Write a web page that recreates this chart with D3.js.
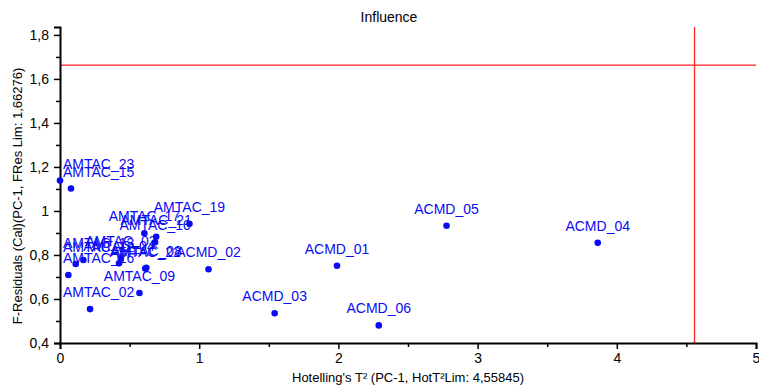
<!DOCTYPE html>
<html>
<head>
<meta charset="utf-8">
<script src="https://cdn.jsdelivr.net/npm/d3@7"></script>
<style>
  html, body { margin: 0; padding: 0; background: #fff; }
  svg { display: block; font-family: "Liberation Sans", Arial, sans-serif; }
</style>
</head>
<body>
<svg id="chart" width="759" height="385"></svg>
<script>
// Sample names and their influence coordinates
const sampleNames = [
  "AMTAC_23", "AMTAC_15", "AMTAC_19", "AMTAC_17", "AMTAC_21", "AMTAC_10",
  "AMTAC_16", "AMTAC_12", "AMTAC_13", "AMTAC_03", "AMTAC_04", "AMTAC_22",
  "AMTAC_08", "AMTAC_09", "AMTAC_02",
  "ACMD_02", "ACMD_01", "ACMD_05", "ACMD_04", "ACMD_03", "ACMD_06"
];
const hotellingT2 = [
  0.000, 0.079, 0.930, 0.606, 0.691, 0.683,
  0.060, 0.113, 0.168, 0.437, 0.424, 0.612,
  0.620, 0.571, 0.216,
  1.067, 1.990, 2.777, 3.863, 1.542, 2.290
];
const fResiduals = [
  1.138, 1.102, 0.942, 0.899, 0.883, 0.858,
  0.709, 0.759, 0.777, 0.785, 0.762, 0.738,
  0.742, 0.627, 0.554,
  0.735, 0.751, 0.933, 0.855, 0.535, 0.480
];

// Limits
const hotT2Limit = 4.55845;
const fResLimit = 1.66276;

// Axis ticks
const xTickValues = [0, 1, 2, 3, 4, 5];
const xMinorTicks = [0.5, 1.5, 2.5, 3.5, 4.5];
const yTickValues = [0.4, 0.6, 0.8, 1.0, 1.2, 1.4, 1.6, 1.8];
const yMinorTicks = [0.5, 0.7, 0.9, 1.1, 1.3, 1.5, 1.7];

const svg = d3.select("#chart");
const margin = { left: 60, right: 3, top: 27, bottom: 42 };
const W = 759, H = 385;

const x = d3.scaleLinear().domain([0, 5]).range([margin.left, W - margin.right]);
const y = d3.scaleLinear().domain([0.4, 1.836]).range([H - margin.bottom, margin.top]);

const fmt = v => (Number.isInteger(v) ? String(v) : d3.format(".1f")(v).replace(".", ","));

// Title
svg.append("text")
  .attr("x", 389).attr("y", 22)
  .attr("text-anchor", "middle")
  .attr("font-size", 14)
  .text("Influence");

// Limit lines
svg.append("line")
  .attr("x1", x(0)).attr("x2", x(5))
  .attr("y1", y(fResLimit)).attr("y2", y(fResLimit))
  .attr("stroke", "#ff2020").attr("stroke-width", 1.3);
svg.append("line")
  .attr("x1", x(hotT2Limit)).attr("x2", x(hotT2Limit))
  .attr("y1", y(0.4)).attr("y2", margin.top)
  .attr("stroke", "#ff2020").attr("stroke-width", 1.3);

// X axis
svg.append("g")
  .attr("transform", `translate(0,${y(0.4)})`)
  .call(d3.axisBottom(x).tickValues(xTickValues).tickFormat(fmt).tickSize(6).tickPadding(4));
svg.append("g")
  .attr("transform", `translate(0,${y(0.4)})`)
  .call(d3.axisBottom(x).tickValues(xMinorTicks).tickFormat("").tickSize(4))
  .call(g => g.select(".domain").remove());

// Y axis
svg.append("g")
  .attr("transform", `translate(${x(0)},0)`)
  .call(d3.axisLeft(y).tickValues(yTickValues).tickFormat(fmt).tickSize(6).tickPadding(5));
svg.append("g")
  .attr("transform", `translate(${x(0)},0)`)
  .call(d3.axisLeft(y).tickValues(yMinorTicks).tickFormat("").tickSize(4))
  .call(g => g.select(".domain").remove());

svg.selectAll(".domain").attr("stroke", "#000").attr("stroke-width", 2);
svg.selectAll(".tick line").attr("stroke", "#000").attr("stroke-width", 1.5);
svg.selectAll(".tick text")
  .attr("font-size", 14)
  .attr("font-family", "Liberation Sans, Arial, sans-serif")
  .attr("fill", "#000");

// Axis titles
svg.append("text")
  .attr("x", 408).attr("y", 382)
  .attr("text-anchor", "middle")
  .attr("font-size", 13)
  .text("Hotelling's T² (PC-1, HotT²Lim: 4,55845)");
svg.append("text")
  .attr("transform", `translate(22,196) rotate(-90)`)
  .attr("text-anchor", "middle")
  .attr("font-size", 13)
  .text("F-Residuals (Cal)(PC-1, FRes Lim: 1,66276)");

// Points and labels
const points = sampleNames.map((n, i) => ({ name: n, t2: hotellingT2[i], fr: fResiduals[i] }));

const blue = "#0a0af5";
svg.append("g").selectAll("circle")
  .data(points).join("circle")
  .attr("cx", d => x(d.t2)).attr("cy", d => y(d.fr))
  .attr("r", 3.3).attr("fill", blue);

const labels = svg.append("g").selectAll("text")
  .data(points).join("text")
  .attr("font-size", 14)
  .attr("fill", blue)
  .attr("y", d => y(d.fr) - 12)
  .text(d => d.name);

// Centre each label over its point, keeping it inside the plot's left edge
labels.each(function(d) {
  const w = this.getComputedTextLength();
  const left = Math.max(x(d.t2) - w / 2, x(0) + 3);
  d3.select(this).attr("x", left);
});
</script>
</body>
</html>
